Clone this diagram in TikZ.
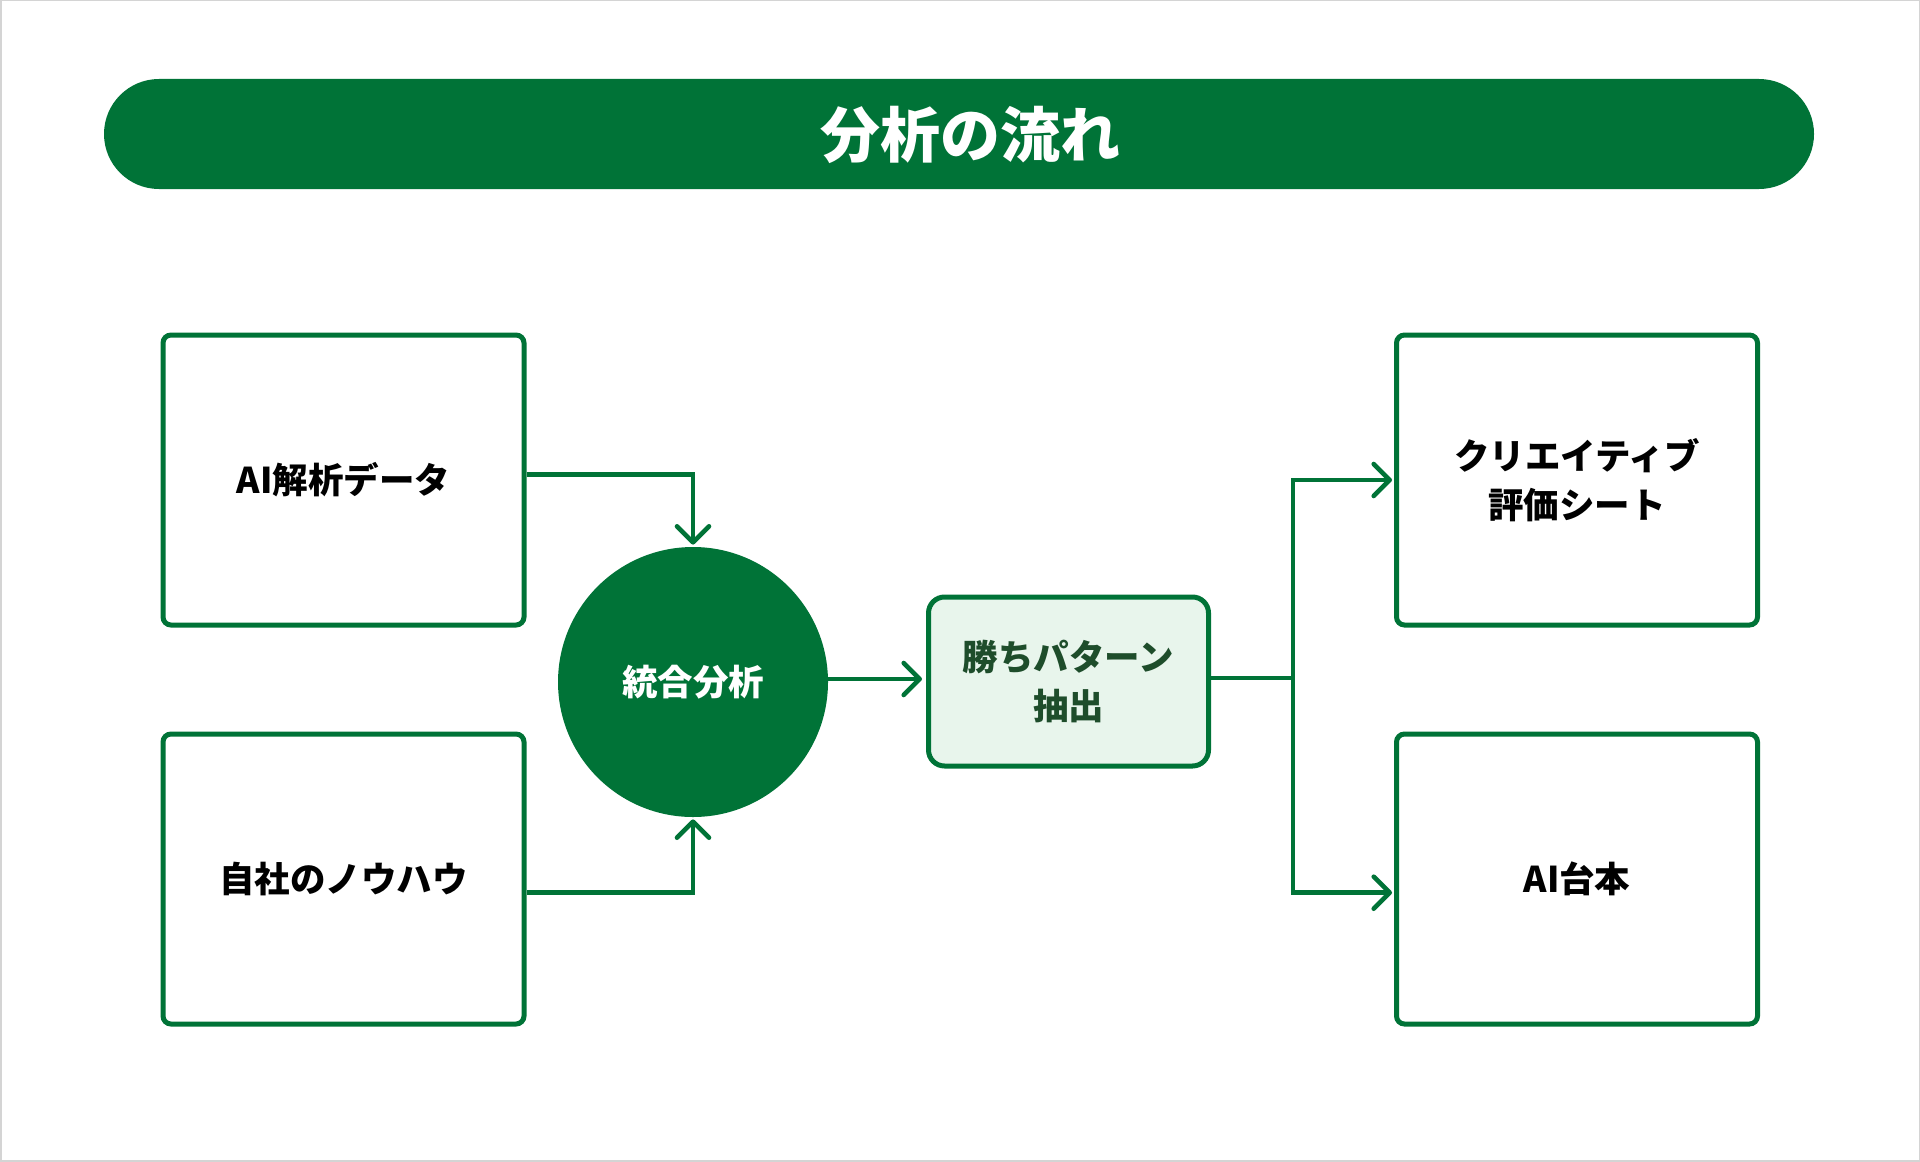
\documentclass[tikz,border=0pt]{standalone}
\usepackage{fontspec}
\newfontfamily\jp{Noto Sans CJK JP}
\usetikzlibrary{arrows.meta}
\definecolor{gr}{HTML}{007337}
\definecolor{lgr}{HTML}{E8F5EC}
\definecolor{dgr}{HTML}{1E4D2B}
\definecolor{framecol}{HTML}{D4D4D4}
\newcommand{\jptxt}{\jp\bfseries\fontsize{17.75}{24.5}\selectfont}
\begin{document}
\begin{tikzpicture}[x=0.5pt,y=-0.5pt,
  sidebox/.style={draw=gr, line width=2.5pt, rounded corners=4pt, fill=white,
    minimum width=180.5pt, minimum height=145pt, inner sep=0pt,
    font=\jptxt, text=black, align=center},
  hubnode/.style={circle, fill=gr, minimum size=135pt, inner sep=0pt,
    font=\jptxt, text=white},
  patbox/.style={draw=gr, line width=2.5pt, rounded corners=8pt, fill=lgr,
    minimum width=140pt, minimum height=84.5pt, inner sep=0pt,
    font=\jptxt, text=dgr, align=center},
  titlebar/.style={fill=gr, rounded corners=27.5pt, minimum width=855pt,
    minimum height=55pt, inner sep=0pt},
  titletext/.style={text=white, inner sep=0pt,
    font={\jp\bfseries\fontsize{30}{36}\selectfont}},
  conn/.style={draw=gr, line width=2.3pt},
  arr/.style={conn, -{Straight Barb[length=8pt, width=16pt, round, line width=2.3pt]}}
]
\useasboundingbox (0,0) rectangle (1920,1161);
\draw[framecol, line width=1pt] (0.5,0.5) rectangle (1919.5,1160.5);

\node[titlebar] (title) at (959,134) {};
\node[titletext] (titlelabel) at (970,135) {分析の流れ};

\node[sidebox] (ai) at (343.5,480) {AI解析データ};
\node[sidebox] (own) at (343.5,879) {自社のノウハウ};
\node[hubnode] (hub) at (693,682) {統合分析};
\node[patbox] (pat) at (1068.5,681.5) {勝ちパターン\\抽出};
\node[sidebox] (cre) at (1577,480) {クリエイティブ\\評価シート};
\node[sidebox] (scr) at (1577,879) {AI台本};

\coordinate (split) at (1293,678);

\draw[arr] ([yshift=2.9pt]ai.east) -| ([yshift=1pt]hub.north);
\draw[arr] ([yshift=-6.85pt]own.east) -| ([yshift=-1pt]hub.south);
\draw[arr] (hub.east |- 0,679) -- ([xshift=-2pt]pat.west |- 0,679);
\draw[conn] (pat.east |- split) -- (split);
\draw[arr] (split) |- ([xshift=-1pt]cre.west);
\draw[arr] (split) |- ([xshift=-1pt,yshift=-6.85pt]scr.west);
\end{tikzpicture}
\end{document}
